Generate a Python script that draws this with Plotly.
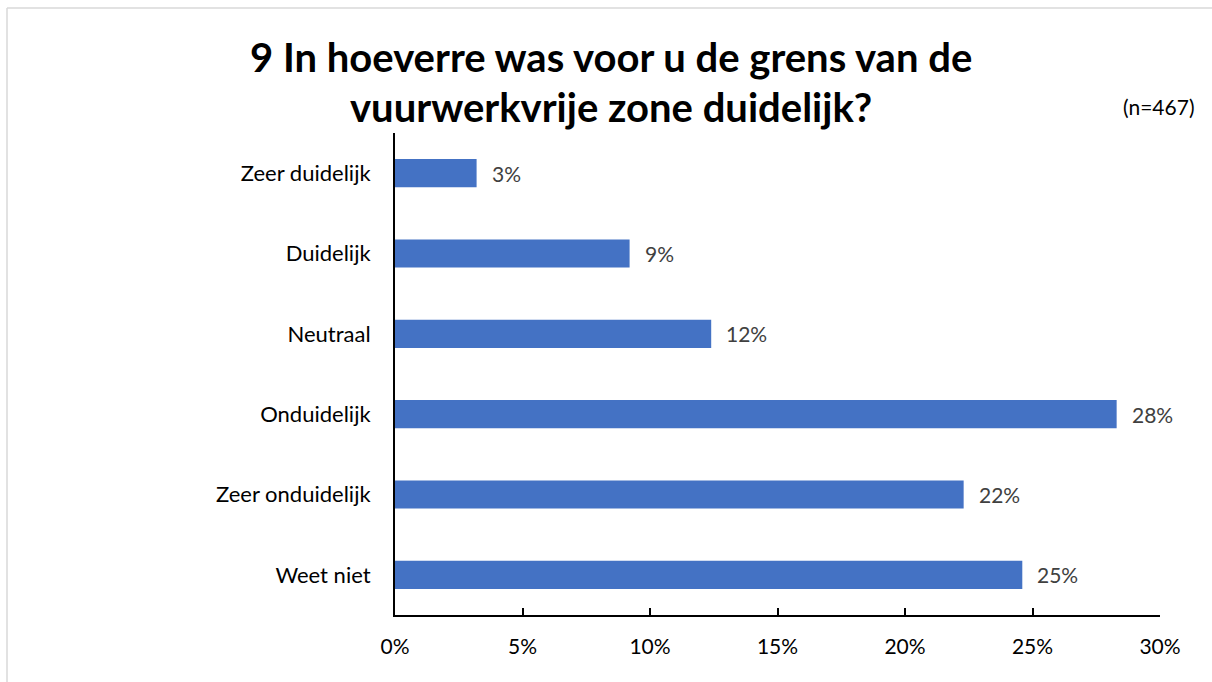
import plotly.graph_objects as go

categories = ["Zeer duidelijk", "Duidelijk", "Neutraal", "Onduidelijk", "Zeer onduidelijk", "Weet niet"]
values = [3.2, 9.2, 12.4, 28.3, 22.3, 24.6]
tick_vals = [0, 5, 10, 15, 20, 25, 30]
tick_text = ["0%", "5%", "10%", "15%", "20%", "25%", "30%"]
title_lines = ["9 In hoeverre was voor u de grens van de", "vuurwerkvrije zone duidelijk?"]
n_label = "(n=467)"

FONT = "Lato"
L, R, T, B = 395, 52, 133, 67
W, H = 1212, 682
pw, ph = W - L - R, H - T - B

def px_x(px):
    return (px - L) / pw

def px_y(py):
    return (H - B - py) / ph

fig = go.Figure()
fig.add_trace(go.Bar(
    x=values, y=categories, orientation="h",
    marker=dict(color="#4472C4", line=dict(width=0)),
    width=0.35,
    hoverinfo="skip",
))

annotations = []
for c, v in zip(categories, values):
    annotations.append(dict(
        x=v, y=c, xref="x", yref="y", text=f"{v:.0f}%", showarrow=False,
        xanchor="left", yanchor="middle", xshift=13,
        font=dict(family=FONT, size=21, color="#404040"),
    ))

annotations.append(dict(x=px_x(611), y=px_y(57), xref="paper", yref="paper",
                        text=title_lines[0], showarrow=False, xanchor="center", yanchor="middle",
                        font=dict(family=FONT, size=40, color="#000000", weight="bold")))
annotations.append(dict(x=px_x(611), y=px_y(107), xref="paper", yref="paper",
                        text=title_lines[1], showarrow=False, xanchor="center", yanchor="middle",
                        font=dict(family=FONT, size=40, color="#000000", weight="bold")))
annotations.append(dict(x=px_x(1196), y=px_y(107), xref="paper", yref="paper",
                        text=n_label, showarrow=False, xanchor="right", yanchor="middle",
                        font=dict(family=FONT, size=21, color="#000000")))

border = dict(color="#d9d9d9", width=1.5)

fig.update_layout(
    width=W, height=H,
    margin=dict(l=L, r=R, t=T, b=B, autoexpand=False),
    paper_bgcolor="#ffffff", plot_bgcolor="#ffffff",
    showlegend=False,
    annotations=annotations,
    font=dict(family=FONT, size=21, color="#000000"),
    xaxis=dict(
        range=[0, 30], tickvals=tick_vals, ticktext=tick_text,
        showgrid=False, zeroline=False,
        showline=True, linecolor="#000000", linewidth=2,
        ticks="inside", ticklen=7, tickwidth=2, tickcolor="#000000",
        tickfont=dict(family=FONT, size=21, color="#000000"),
        ticklabelstandoff=12,
        fixedrange=True,
    ),
    yaxis=dict(
        autorange="reversed",
        showgrid=False, zeroline=False,
        showline=True, linecolor="#000000", linewidth=2,
        ticks="", ticklabelstandoff=18,
        tickfont=dict(family=FONT, size=22, color="#000000"),
        fixedrange=True,
    ),
    shapes=[
        dict(type="line", xref="paper", yref="paper",
             x0=px_x(7), x1=px_x(1212), y0=px_y(8), y1=px_y(8), line=border, layer="below"),
        dict(type="line", xref="paper", yref="paper",
             x0=px_x(7), x1=px_x(7), y0=px_y(8), y1=px_y(682), line=border, layer="below"),
    ],
)

fig.write_html(
    "out.html", config={"displayModeBar": False},
    post_script=("document.body.style.margin='0';document.body.style.overflow='hidden';"
                 "document.documentElement.style.overflow='hidden';"),
)
